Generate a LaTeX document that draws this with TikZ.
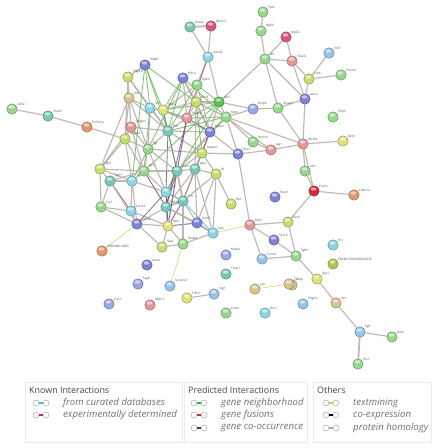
\documentclass[tikz,border=0pt]{standalone}
\usepackage{fontspec}
\setmainfont{Open Sans}
\usetikzlibrary{backgrounds}
\pgfdeclarelayer{edgelayer}
\pgfsetlayers{background,edgelayer,main}
\definecolor{pgreen}{RGB}{150,215,140}
\definecolor{pteal}{RGB}{120,200,185}
\definecolor{pcyan}{RGB}{140,212,225}
\definecolor{pblue}{RGB}{125,130,215}
\definecolor{plilac}{RGB}{155,165,228}
\definecolor{ppink}{RGB}{228,150,152}
\definecolor{pred}{RGB}{215,40,60}
\definecolor{porange}{RGB}{228,150,110}
\definecolor{pyellow}{RGB}{222,226,120}
\definecolor{pyg}{RGB}{195,222,110}
\definecolor{ptan}{RGB}{215,195,145}
\definecolor{pbright}{RGB}{90,195,75}
\definecolor{plblue}{RGB}{150,195,232}
\definecolor{pmag}{RGB}{215,85,120}
\definecolor{polive}{RGB}{180,195,80}
\definecolor{egray}{RGB}{180,173,164}
\definecolor{egreen}{RGB}{95,185,80}
\definecolor{epurple}{RGB}{120,75,140}
\definecolor{edark}{RGB}{80,75,88}
\definecolor{emag}{RGB}{175,60,120}
\definecolor{ecyan}{RGB}{90,190,205}
\definecolor{eyellow}{RGB}{215,222,120}
\definecolor{lcur}{RGB}{60,190,210}
\definecolor{lexp}{RGB}{200,40,150}
\definecolor{lnei}{RGB}{50,180,60}
\definecolor{lfus}{RGB}{210,40,50}
\definecolor{lcoo}{RGB}{50,60,150}
\definecolor{ltxt}{RGB}{200,210,60}
\definecolor{lhom}{RGB}{160,160,220}
\tikzset{
  prot/.style={circle, minimum size=10.5pt, inner sep=0pt, fill=#1, draw=#1!60!black, line width=0.35pt,
    path picture={\fill[white,opacity=.55] ([xshift=-0.6pt,yshift=2pt]path picture bounding box.center) ellipse (2.9pt and 1.7pt);}},
  lab/.style={font=\fontsize{3.1}{3.5}\selectfont, text=black!70, inner sep=0.4pt},
  eg/.style={draw=egray, line width=1.15pt, opacity=.85},
  egt/.style={draw=egray, line width=1.8pt, opacity=.85},
  egr/.style={draw=egreen, line width=0.8pt, opacity=.85},
  epu/.style={draw=epurple, line width=1pt, opacity=.8},
  edk/.style={draw=edark, line width=0.8pt, opacity=.75},
  ema/.style={draw=emag, line width=0.9pt, opacity=.75},
  ecy/.style={draw=ecyan, line width=0.8pt, opacity=.85},
  eye/.style={draw=eyellow, line width=0.7pt},
  legbox/.style={draw=black!8, fill=white, line width=0.5pt},
  leghead/.style={font=\fontsize{8.9}{10}\selectfont, text=black!72, anchor=base west, inner sep=0pt},
  legitem/.style={font=\fontsize{9.6}{10}\selectfont\itshape, text=black!55, anchor=west, inner sep=0pt},
  legball/.style={circle, minimum size=6pt, inner sep=0pt, draw=black!40, fill=white, line width=0.4pt},
}
\newcommand\gn[5]{\node[prot=#4, label={[lab]35:#5}] (#1) at (#2,#3) {};}
\begin{document}
\begin{tikzpicture}[x=1pt,y=-1pt]
\begin{pgfonlayer}{background}
\fill[white] (0,0) rectangle (438,448);
\end{pgfonlayer}
\useasboundingbox (0,0) rectangle (438,448);
% ---------------- nodes
\gn{a1}{12}{109}{pgreen}{Cdh2}
\gn{a2}{48}{116}{pteal}{Vcam1}
\gn{a3}{87}{127}{porange}{Tnfrsf1a}
\gn{t1}{190}{27}{pteal}{Gata4}
\gn{t2}{211}{26}{pmag}{Nkx2-5}
\gn{t3}{208}{57}{pcyan}{Hand2}
\gn{t4}{263}{12}{pgreen}{Tbx5}
\gn{t5}{261}{31}{pgreen}{Myh6}
\gn{t6}{286}{37}{pmag}{Mef2c}
\gn{t7}{265}{59}{pgreen}{Isl1}
\gn{t8}{292}{61}{ppink}{Tbx20}
\gn{r1}{329}{53}{plblue}{Fzd7}
\gn{r2}{309}{79}{pyg}{Lrp6}
\gn{r3}{341}{75}{pgreen}{Ctnnb1}
\gn{r4}{305}{99}{pblue}{Axin2}
\gn{r5}{333}{117}{pgreen}{Sfrp2}
\gn{r6}{343}{141}{pyellow}{Dkk1}
\gn{r7}{303}{144}{ppink}{Wnt3a}
\gn{r8}{305}{171}{pgreen}{Lef1}
\gn{r9}{314}{191}{pred}{Ccnd1}
\gn{r10}{354}{195}{porange}{Cdkn1a}
\gn{m1}{253}{109}{plilac}{Bmp4}
\gn{m2}{278}{108}{pgreen}{Smad1}
\gn{m3}{253}{142}{pgreen}{Notch1}
\gn{m4}{271}{150}{ppink}{Jag1}
\gn{m5}{238}{154}{pblue}{Hes1}
\gn{m6}{231}{204}{pyg}{Dll1}
\gn{m7}{275}{197}{pblue}{Foxo1}
\gn{l1}{250}{225}{ppink}{Pax3}
\gn{l2}{288}{222}{pyg}{Sox9}
\gn{l3}{274}{240}{pblue}{Sox10}
\gn{l4}{296}{256}{pgreen}{Tgfb1}
\gn{l5}{262}{259}{plblue}{Col1a1}
\gn{l6}{333}{245}{pcyan}{Fn1}
\gn{l7}{333}{264}{polive}{ENSMUSP00000062036}
\gn{l8}{317}{279}{pyellow}{Spp1}
\gn{l9}{292}{285}{ptan}{Ibsp}
\gn{l10}{303}{304}{plblue}{Pdgfra}
\gn{l11}{336}{303}{ptan}{Vim}
\gn{l12}{360}{332}{plblue}{Egfr}
\gn{l13}{392}{337}{pgreen}{Grb2}
\gn{l14}{358}{364}{pgreen}{Shc1}
\gn{b1}{226}{255}{plilac}{Mmp2}
\gn{b2}{226}{274}{pteal}{Timp1}
\gn{b3}{170}{286}{plblue}{Serpine1}
\gn{b4}{187}{298}{pyellow}{Thbs1}
\gn{b5}{214}{294}{plblue}{Ctgf}
\gn{b6}{226}{313}{pgreen}{Postn}
\gn{b7}{255}{289}{ptan}{Lox}
\gn{b8}{289}{284}{ptan}{Eln}
\gn{b9}{265}{313}{pcyan}{Fbn1}
\gn{i1}{102}{251}{porange}{4930486L24Rik}
\gn{i2}{147}{265}{pblue}{Acta2}
\gn{i3}{138}{284}{plilac}{Tagln}
\gn{i4}{109}{304}{plilac}{Cnn1}
\gn{i5}{150}{305}{ppink}{Myh11}
\gn{c1}{145}{65}{pblue}{Pdgfb}
\gn{c2}{128}{77}{pyg}{Pdgfrb}
\gn{c3}{129}{98}{ptan}{Kdr}
\gn{c4}{150}{108}{pcyan}{Flt1}
\gn{c5}{163}{110}{pyellow}{Vegfa}
\gn{c6}{183}{78}{pblue}{Hif1a}
\gn{c7}{197}{85}{pgreen}{Epas1}
\gn{c8}{196}{102}{pyg}{Nos3}
\gn{c9}{219}{102}{pbright}{Akt1}
\gn{c10}{187}{118}{ppink}{Pik3ca}
\gn{c11}{226}{117}{pgreen}{Mtor}
\gn{c12}{131}{127}{ppink}{Angpt1}
\gn{c13}{168}{131}{pteal}{Tek}
\gn{c14}{210}{132}{pblue}{Mapk1}
\gn{c15}{125}{139}{pyg}{Angpt2}
\gn{c16}{148}{149}{pgreen}{Egf}
\gn{c17}{202}{153}{pyg}{Mapk3}
\gn{c18}{100}{169}{pyg}{Fgf2}
\gn{c19}{110}{181}{pteal}{Fgfr1}
\gn{c20}{132}{181}{pcyan}{Igf1}
\gn{c21}{144}{171}{pgreen}{Igf1r}
\gn{c22}{177}{171}{pteal}{Stat3}
\gn{c23}{195}{169}{pteal}{Jak2}
\gn{c24}{216}{174}{pyg}{Il6}
\gn{c25}{166}{192}{pcyan}{Tnf}
\gn{c26}{183}{201}{pteal}{Il1b}
\gn{c27}{166}{207}{pteal}{Nfkb1}
\gn{c28}{101}{207}{pgreen}{Ccl2}
\gn{c29}{131}{211}{pcyan}{Cxcl12}
\gn{c30}{137}{224}{pblue}{Cxcr4}
\gn{c31}{168}{226}{pyellow}{Rela}
\gn{c32}{197}{223}{pblue}{Icam1}
\gn{c33}{213}{233}{pcyan}{Sele}
\gn{c34}{162}{247}{pyg}{Selp}
\gn{c35}{183}{244}{pgreen}{Mmp9}
% ---------------- edges
\begin{pgfonlayer}{edgelayer}
\draw[eg] (a1)--(a2); \draw[eg] (a2)--(a3); \draw[eg] (a3)--(c15);
\draw[egt] (t1)--(t2); \draw[eg] (t1)--(t3); \draw[eg] (t2)--(t3);
\draw[eg] (t3)--(c7); \draw[ema] (t3)--(c10); \draw[eg] (t3)--(c9);
\draw[eg] (t4)--(t5); \draw[eg] (t5)--(t7); \draw[eg] (t7)--(t6); \draw[eg] (t7)--(t8); \draw[eg] (t6)--(t8);
\draw[eg] (t7)--(c9); \draw[eg] (t7)--(m2); \draw[eg] (t7)--(r4);
\draw[eg] (t8)--(r2); \draw[eg] (t8)--(r4);
\draw[eg] (r2)--(r1); \draw[eg] (r2)--(r3); \draw[eg] (r2)--(r4);
\draw[eg] (r4)--(r7); \draw[eg] (r4)--(m2);
\draw[eg] (r7)--(r6); \draw[eg] (r7)--(r8); \draw[eg] (r8)--(r9); \draw[eg] (r7)--(r9);
\draw[eg] (r9)--(r10); \draw[eg] (r9)--(l2);
\draw[eg] (m1)--(m2); \draw[eg] (m1)--(c9); \draw[eg] (m1)--(c11);
\draw[eg] (m3)--(m4); \draw[eg] (m4)--(r7); \draw[eg] (m2)--(r7);
\draw[eg] (m5)--(c14); \draw[eg] (m5)--(m4); \draw[eg] (m5)--(l1); \draw[eg] (m5)--(c11);
\draw[eg] (c24)--(m6); \draw[eg] (m3)--(c11); \draw[eg] (c11)--(r7); \draw[eg] (c17)--(m5);
\draw[eg] (c11)--(m4);
\draw[eg] (l1)--(l2); \draw[eg] (l1)--(l3); \draw[eg] (l1)--(l5);
\draw[eg] (l3)--(l4); \draw[eg] (l5)--(l4); \draw[eg] (l2)--(l4);
\draw[eg] (l4)--(l8); \draw[eg] (l8)--(l11); \draw[eg] (l11)--(l12);
\draw[eg] (l12)--(l13); \draw[egt] (l12)--(l14);
\draw[eye] (l1)--(c33); \draw[eye] (b7)--(b8); \draw[eye] (c35)--(b3); \draw[eye] (i1)--(c30);
\draw[eg] (b4)--(b5);
% central cluster
\draw[eg] (c1)--(c2); \draw[egr] (c1)--(c4); \draw[egr] (c1)--(c5); \draw[egr] (c1)--(c8); \draw[egr] (c1)--(c13);
\draw[eg] (c2)--(c3); \draw[eg] (c2)--(c4); \draw[eg] (c3)--(c4); \draw[eg] (c3)--(c12);
\draw[eg] (c3)--(c15); \draw[eg] (c3)--(c18); \draw[eg] (c3)--(c13);
\draw[eg] (c4)--(c5); \draw[eg] (c4)--(c13); \draw[eg] (c4)--(c10); \draw[eg] (c4)--(c16);
\draw[eg] (c5)--(c6); \draw[eg] (c5)--(c7); \draw[eg] (c5)--(c8); \draw[eg] (c5)--(c10);
\draw[epu] (c5)--(c13); \draw[eg] (c5)--(c14); \draw[egr] (c5)--(c9);
\draw[eg] (c6)--(c8); \draw[eg] (c6)--(c10); \draw[egr] (c6)--(c11);
\draw[eg] (c7)--(c8); \draw[egr] (c7)--(c9); \draw[egr] (c7)--(c13);
\draw[eg] (c8)--(c9); \draw[eg] (c8)--(c10); \draw[eg] (c8)--(c11); \draw[eg] (c8)--(c14);
\draw[eg] (c9)--(c11); \draw[egr] (c9)--(c10); \draw[eg] (c9)--(c14);
\draw[eg] (c10)--(c13); \draw[epu] (c10)--(c14); \draw[eg] (c10)--(c11); \draw[eg] (c11)--(c14);
\draw[eg] (c12)--(c15); \draw[eg] (c12)--(c13); \draw[eg] (c12)--(c16);
\draw[eg] (c13)--(c16); \draw[eg] (c13)--(c14); \draw[epu] (c13)--(c22); \draw[edk] (c13)--(c25); \draw[eg] (c13)--(c17);
\draw[eg] (c14)--(c17); \draw[eg] (c14)--(c23);
\draw[eg] (c15)--(c18); \draw[eg] (c15)--(c16); \draw[eg] (c15)--(c21);
\draw[eg] (c16)--(c21); \draw[eg] (c16)--(c20); \draw[eg] (c16)--(c17);
\draw[eg] (c17)--(c23); \draw[eg] (c17)--(c24);
\draw[eg] (c18)--(c19); \draw[eg] (c18)--(c20); \draw[eg] (c18)--(c28);
\draw[eg] (c19)--(c20); \draw[ema] (c19)--(c29); \draw[eg] (c19)--(c28);
\draw[eg] (c20)--(c29); \draw[eg] (c20)--(c21);
\draw[eg] (c21)--(c22); \draw[eg] (c21)--(c25);
\draw[eg] (c22)--(c23); \draw[eg] (c22)--(c25); \draw[egt] (c22)--(c26);
\draw[eg] (c23)--(c26); \draw[eg] (c23)--(c24); \draw[eg] (c23)--(c32); \draw[eg] (c24)--(c32);
\draw[edk] (c25)--(c26); \draw[edk] (c25)--(c27);
\draw[egt] (c26)--(c27); \draw[epu] (c26)--(c31); \draw[eg] (c26)--(c32); \draw[ecy] (c26)--(c33);
\draw[egt] (c27)--(c31); \draw[eg] (c27)--(c30); \draw[eg] (c27)--(c33);
\draw[eg] (c28)--(c29); \draw[eg] (c29)--(c30);
\draw[eg] (c30)--(c31); \draw[eg] (c30)--(c34);
\draw[eg] (c31)--(c34); \draw[eg] (c31)--(c35); \draw[epu] (c31)--(c32);
\draw[egt] (c32)--(c33); \draw[eg] (c33)--(c35); \draw[eg] (c34)--(c35);
\draw[epu] (c22)--(c27); \draw[epu] (c25)--(c31); \draw[eg] (c23)--(c33);
\draw[eg] (c16)--(c22); \draw[egr] (c4)--(c21); \draw[egr] (c5)--(c22); \draw[egr] (c8)--(c17);
\draw[egr] (c6)--(c13); \draw[eg] (c2)--(c15);
\draw[egr] (c9)--(c25); \draw[egr] (c11)--(c22); \draw[egr] (c6)--(c16);
\draw[egr] (c9)--(c21); \draw[egr] (c11)--(c13); \draw[egr] (c1)--(c20);
\draw[edk] (c10)--(c27); \draw[ema] (c14)--(c26);
\draw[eg] (c2)--(c13); \draw[eg] (c3)--(c16); \draw[eg] (c12)--(c21); \draw[eg] (c15)--(c20);
\draw[eg] (c18)--(c21); \draw[eg] (c19)--(c21); \draw[eg] (c20)--(c25); \draw[epu] (c21)--(c27);
\draw[eg] (c16)--(c25); \draw[eg] (c17)--(c22); \draw[eg] (c17)--(c26); \draw[eg] (c24)--(c26);
\draw[eg] (c24)--(c33); \draw[eg] (c14)--(c22); \draw[epu] (c10)--(c22); \draw[eg] (c8)--(c23);
\draw[eg] (c7)--(c14); \draw[eg] (c6)--(c14); \draw[eg] (c12)--(c18); \draw[eg] (c20)--(c30);
\draw[eg] (c29)--(c31); \draw[eg] (c28)--(c30); \draw[eg] (c19)--(c30); \draw[edk] (c25)--(c30);
\draw[epu] (c22)--(c31); \draw[eg] (c23)--(c27); \draw[eg] (c27)--(c32); \draw[eg] (c26)--(c35);
\end{pgfonlayer}
% ---------------- legend
\draw[legbox] (25,382) rectangle (182,442);
\draw[legbox] (184,382) rectangle (307,442);
\draw[legbox] (313,382) rectangle (431,442);
\node[leghead] (hk) at (29,393) {Known Interactions};
\node[leghead] (hp) at (188,393) {Predicted Interactions};
\node[leghead] (ho) at (317,393) {Others};
\newcommand\legitem[5]{%
  \node[legball] (#1a) at (#2,#3) {};
  \node[legball] (#1b) at (#2+10,#3) {};
  \draw[#4, line width=1.1pt] (#1a)--(#1b);
  \node[legitem] (#1t) at (#2+27,#3) {#5};}
\legitem{k1}{36}{403}{lcur}{from curated databases}
\legitem{k2}{36}{415}{lexp}{experimentally determined}
\legitem{p1}{194}{403}{lnei}{gene neighborhood}
\legitem{p2}{194}{415}{lfus}{gene fusions}
\legitem{p3}{194}{428}{lcoo}{gene co-occurrence}
\legitem{o1}{326}{403}{ltxt}{textmining}
\legitem{o2}{326}{415}{black}{co-expression}
\legitem{o3}{326}{428}{lhom}{protein homology}
\end{tikzpicture}
\end{document}
